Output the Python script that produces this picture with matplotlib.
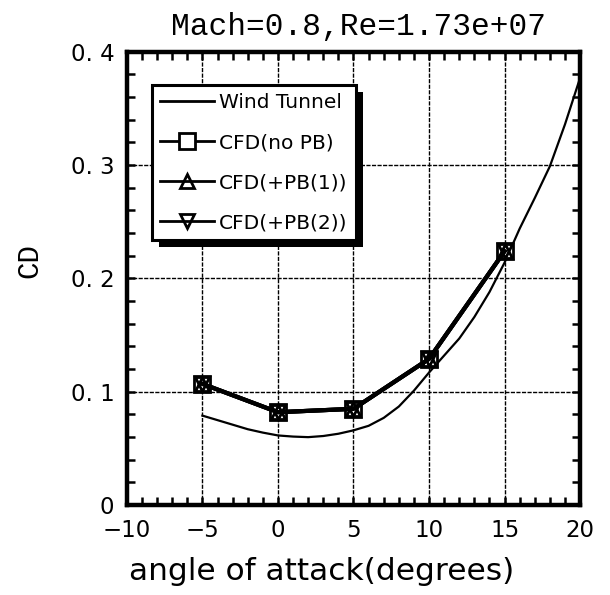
import matplotlib
matplotlib.use("Agg")
import matplotlib.pyplot as plt
import matplotlib.patheffects as pe
from matplotlib.ticker import MultipleLocator, FixedLocator

# wind tunnel measurement
wt_alpha = [-5, -4, -3, -2, -1, 0, 1, 2, 3, 4, 5, 6, 7, 8, 9, 10, 11, 12, 13, 14, 15, 16, 17, 18, 19, 20]
wt_cd = [0.079, 0.075, 0.071, 0.067, 0.064, 0.0615, 0.0605, 0.060, 0.061, 0.063, 0.066, 0.070, 0.077, 0.087,
         0.101, 0.117, 0.132, 0.147, 0.166, 0.188, 0.214, 0.244, 0.271, 0.299, 0.336, 0.377]

# CFD results
cfd_alpha = [-5, 0, 5, 10, 15]
cfd_nopb = [0.107, 0.082, 0.085, 0.129, 0.224]
cfd_pb1 = [0.107, 0.082, 0.085, 0.129, 0.224]
cfd_pb2 = [0.107, 0.082, 0.085, 0.129, 0.224]

ytick_vals = [0, 0.1, 0.2, 0.3, 0.4]
ytick_text = ["0", "0. 1", "0. 2", "0. 3", "0. 4"]
xtick_vals = [-10, -5, 0, 5, 10, 15, 20]

fig = plt.figure(figsize=(6.1, 5.95), dpi=100)
ax = fig.add_axes([0.208, 0.151, 0.743, 0.762])

ax.plot(wt_alpha, wt_cd, color="k", lw=1.6, label="Wind Tunnel")
mk = dict(color="k", lw=3.0, ms=11, mfc="white", mec="k", mew=2)
ax.plot(cfd_alpha, cfd_nopb, marker="s", label="CFD(no PB)", **mk)
ax.plot(cfd_alpha, cfd_pb1, marker="^", label="CFD(+PB(1))", **dict(mk, ms=10, mfc="none"))
ax.plot(cfd_alpha, cfd_pb2, marker="v", label="CFD(+PB(2))", **dict(mk, ms=10, mfc="none"))

ax.set_xlim(-10, 20)
ax.set_ylim(0, 0.4)
ax.xaxis.set_major_locator(FixedLocator(xtick_vals))
ax.xaxis.set_minor_locator(MultipleLocator(1))
ax.yaxis.set_major_locator(FixedLocator(ytick_vals))
ax.yaxis.set_minor_locator(MultipleLocator(0.02))
ax.set_yticklabels(ytick_text)
ax.set_xticklabels([str(v).replace("-", "\u2212") for v in xtick_vals])

for lab in ax.get_xticklabels() + ax.get_yticklabels():
    lab.set_family("DejaVu Sans")
    lab.set_fontsize(16.5)
# lift the "0" on the y axis a little so it clears the "-10" below
ax.get_yticklabels()[0].set_verticalalignment("center_baseline")

ax.tick_params(which="both", direction="in", top=True, right=True, width=1.8, color="k")
ax.tick_params(axis="x", which="major", length=6, pad=10)
ax.tick_params(axis="y", which="major", length=6, pad=9)
ax.tick_params(which="minor", length=6)
for s in ax.spines.values():
    s.set_linewidth(3.2)

ax.grid(True, which="major", color="k", lw=1.0, ls=(0, (3, 1)))

ax.set_title("Mach=0.8,Re=1.73e+07", family="Liberation Mono", fontsize=22.5, pad=12, x=0.51)
ax.set_xlabel("angle of attack(degrees)", fontsize=22.5, labelpad=10)
ax.xaxis.set_label_coords(0.43, -0.115)
ax.set_ylabel("CD", family="Liberation Mono", fontsize=21)
ax.yaxis.set_label_coords(-0.185, 0.54)

leg = ax.legend(loc="upper left", bbox_to_anchor=(0.055, 0.927), borderaxespad=0,
                fontsize=14.5, handlelength=2.7, handletextpad=0.25, labelspacing=1.05,
                fancybox=False, framealpha=1, edgecolor="k", borderpad=0.4)
frame = leg.get_frame()
frame.set_linewidth(2.2)
frame.set_path_effects([pe.SimplePatchShadow(offset=(5, -5), shadow_rgbFace="k", alpha=1), pe.Normal()])
for h in leg.legend_handles:
    h.set_linewidth(2)

fig.savefig("out.png", dpi=100)
